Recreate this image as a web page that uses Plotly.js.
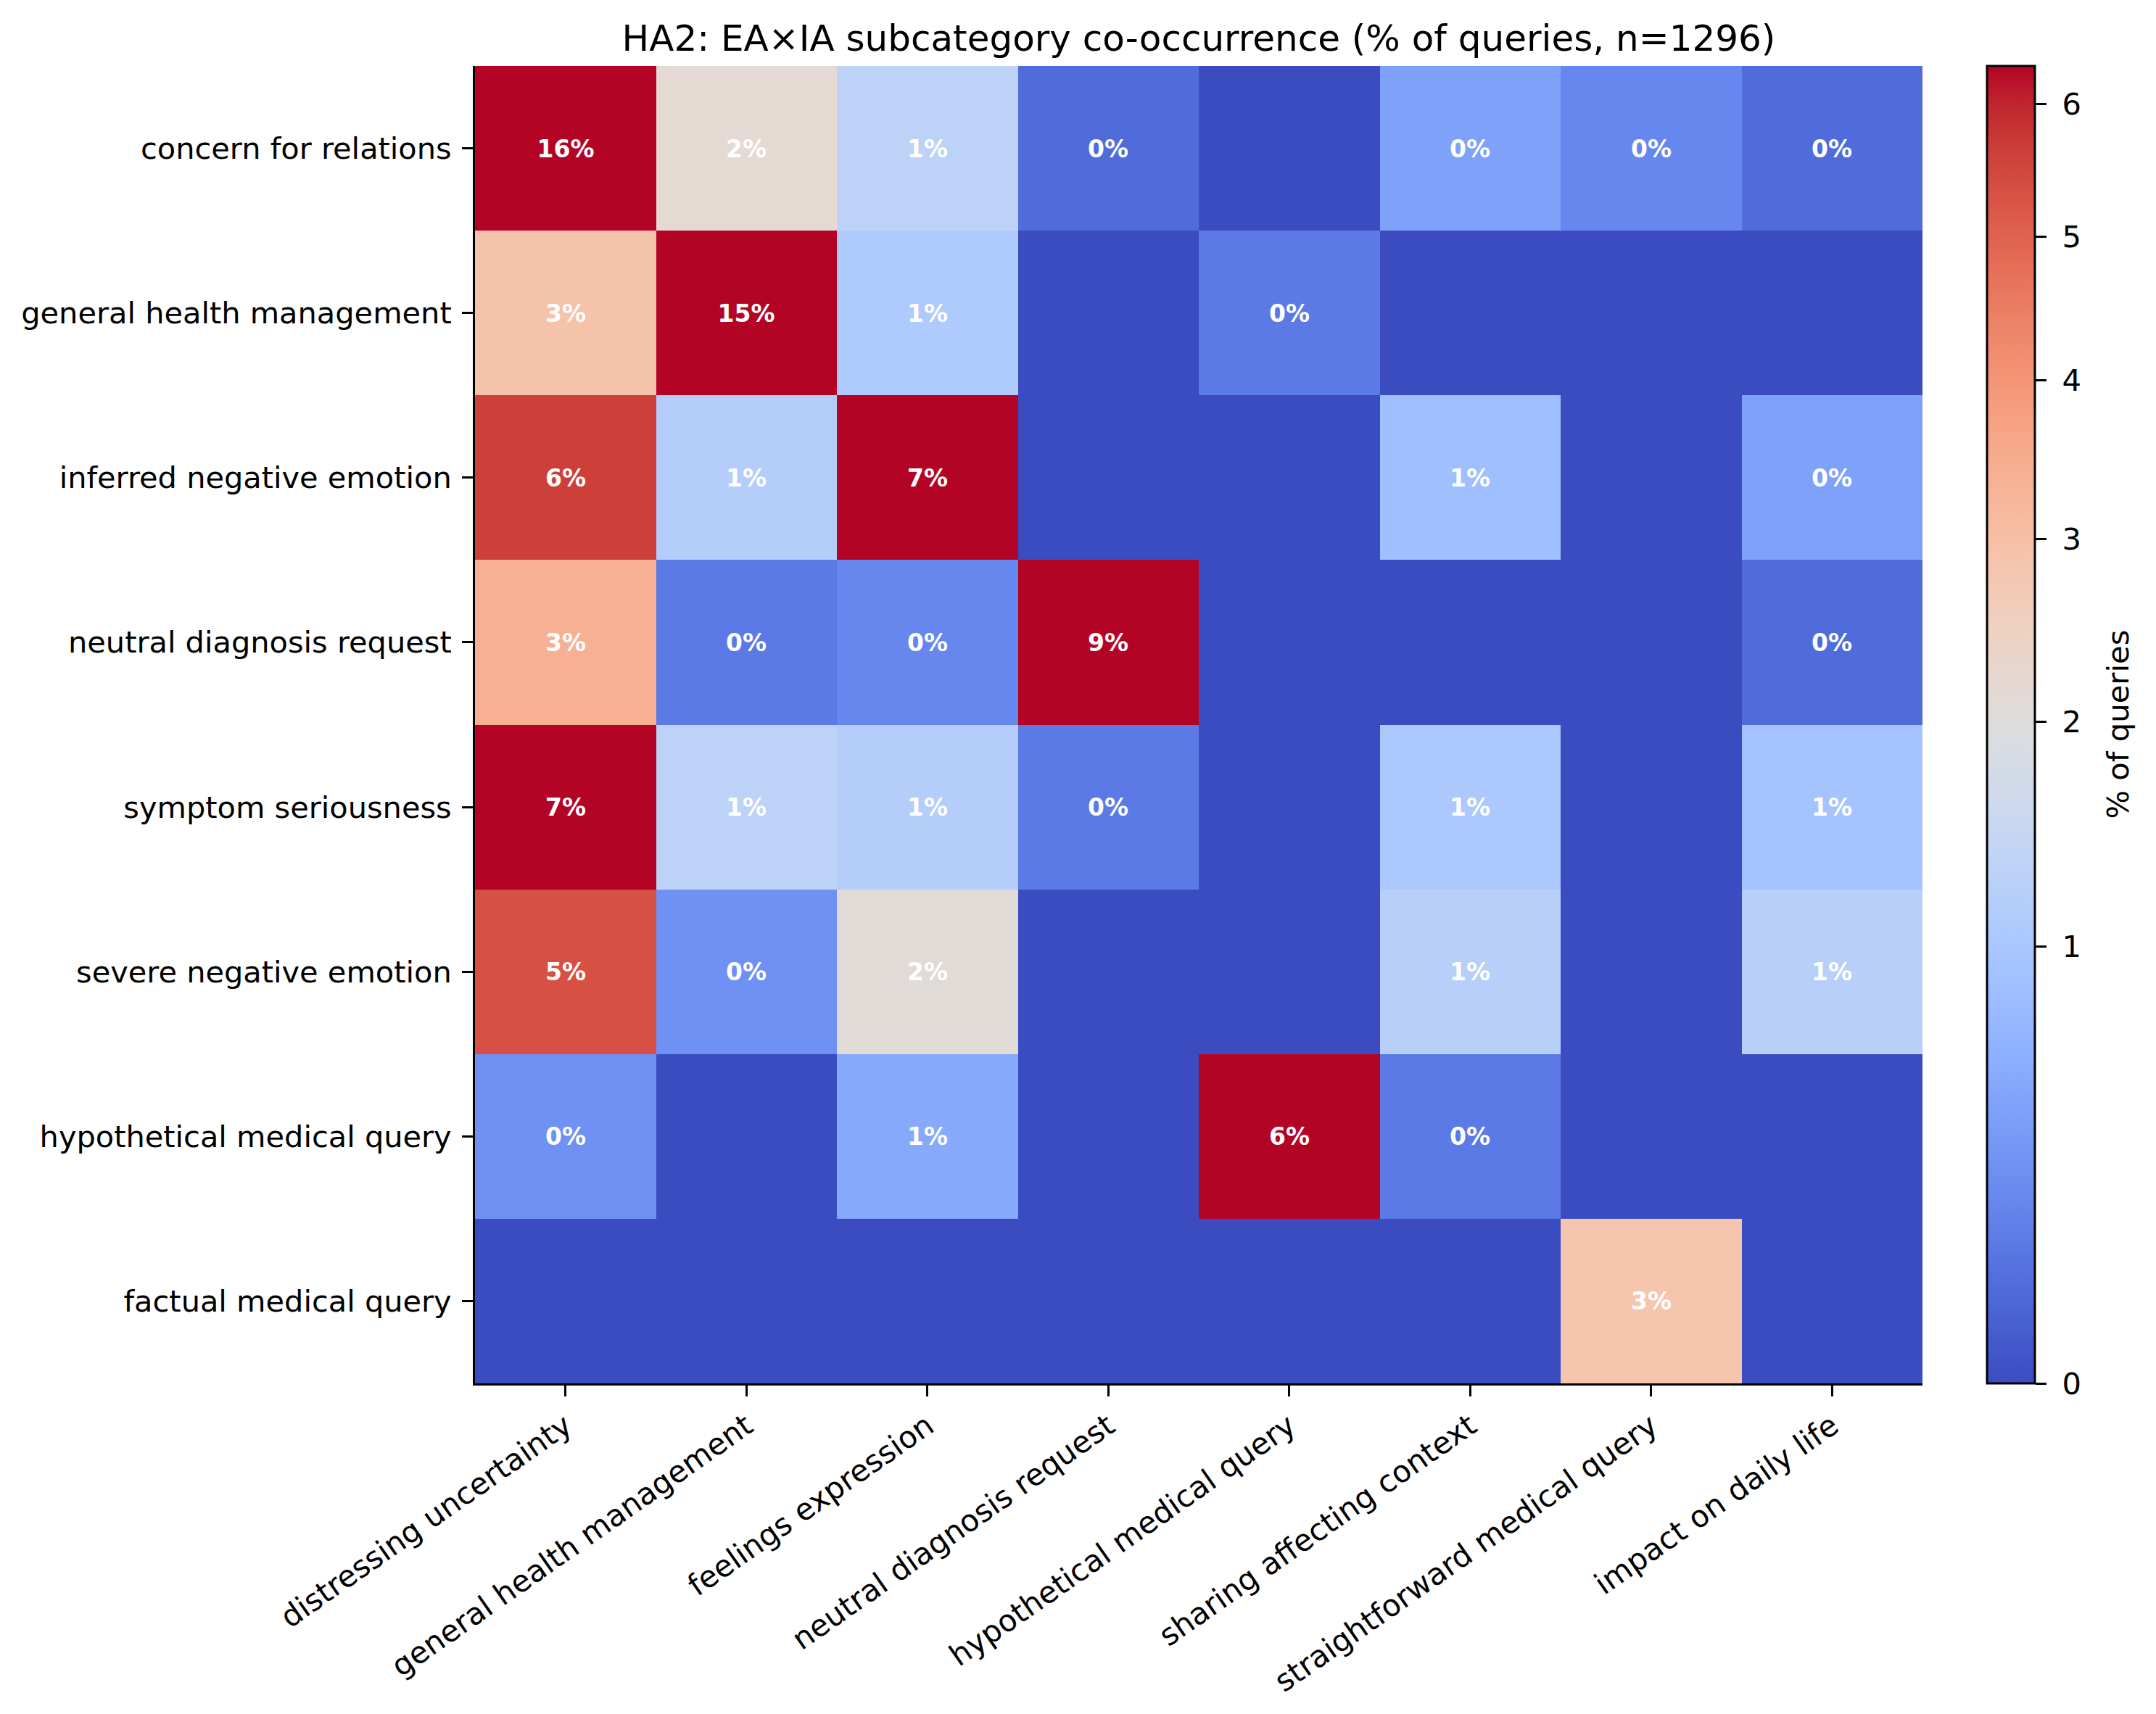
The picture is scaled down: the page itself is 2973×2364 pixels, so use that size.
<!DOCTYPE html>
<html>
<head>
<meta charset="utf-8">
<script src="https://cdn.plot.ly/plotly-3.0.1.min.js"></script>
<style>html,body{margin:0;padding:0;background:#fff;}#chart{width:2973px;height:2364px;}</style>
</head>
<body>
<div id="chart"></div>
<script>
// ---- data (percent of queries, n=1296) ----
const rowLabels = [
  "concern for relations",
  "general health management",
  "inferred negative emotion",
  "neutral diagnosis request",
  "symptom seriousness",
  "severe negative emotion",
  "hypothetical medical query",
  "factual medical query"
];
const colLabels = [
  "distressing uncertainty",
  "general health management",
  "feelings expression",
  "neutral diagnosis request",
  "hypothetical medical query",
  "sharing affecting context",
  "straightforward medical query",
  "impact on daily life"
];
const concernForRelations      = [16.0, 2.16, 1.31, 0.08, 0,    0.46, 0.23, 0.08];
const generalHealthManagement  = [2.93, 15.0, 1.08, 0,    0.15, 0,    0,    0   ];
const inferredNegativeEmotion  = [5.63, 1.16, 7.0,  0,    0,    0.85, 0,    0.46];
const neutralDiagnosisRequest  = [3.40, 0.15, 0.23, 9.0,  0,    0,    0,    0.08];
const symptomSeriousness       = [7.0,  1.31, 1.16, 0.15, 0,    1.03, 0,    0.93];
const severeNegativeEmotion    = [5.32, 0.31, 2.08, 0,    0,    1.23, 0,    1.23];
const hypotheticalMedicalQuery = [0.31, 0,    0.54, 0,    6.4,  0.15, 0,    0   ];
const factualMedicalQuery      = [0,    0,    0,    0,    0,    0,    2.85, 0   ];
const colorbarTicks = [0, 1, 2, 3, 4, 5, 6];

// colour normalisation (power norm, gamma 0.6, vmax ~6.3)
const VMAX = 6.3, GAMMA = 0.6;

// coolwarm colormap
const coolwarm = [
[59,76,192],[68,90,204],[77,104,215],[87,117,225],[98,130,234],[108,142,241],[119,154,247],[130,165,251],
[141,176,254],[152,185,255],[163,194,255],[174,201,253],[184,208,249],[194,213,244],[204,217,238],[213,219,230],
[221,221,221],[229,216,209],[236,211,197],[241,204,185],[245,196,173],[247,187,160],[247,177,148],[247,166,135],
[244,154,123],[241,141,111],[236,127,99],[229,112,88],[222,96,77],[213,80,66],[203,62,56],[192,40,47],[180,4,38]
];
const colorscale = coolwarm.map((c, i) => [i / (coolwarm.length - 1), `rgb(${c[0]},${c[1]},${c[2]})`]);

const rows = [concernForRelations, generalHealthManagement, inferredNegativeEmotion, neutralDiagnosisRequest,
              symptomSeriousness, severeNegativeEmotion, hypotheticalMedicalQuery, factualMedicalQuery];
const norm = v => Math.min(Math.pow(Math.max(v, 0) / VMAX, GAMMA), 1);
const zNorm = rows.map(r => r.map(norm));
const textArr = rows.map(r => r.map(v => v > 0 ? Math.round(v) + "%" : ""));

const FONT = "DejaVu Sans, Liberation Sans, sans-serif";

const trace = {
  type: "heatmap",
  x: colLabels,
  y: rowLabels,
  z: zNorm,
  customdata: rows,
  text: textArr,
  texttemplate: "%{text}",
  textfont: {family: FONT, size: 33, color: "white", weight: "bold"},
  colorscale: colorscale,
  zmin: 0, zmax: 1,
  xgap: 0, ygap: 0,
  hoverinfo: "skip",
  colorbar: {
    x: 1.0446, xanchor: "left", xref: "paper",
    y: 0.5, yanchor: "middle",
    len: 1, lenmode: "fraction",
    thickness: 66, thicknessmode: "pixels",
    xpad: 0, ypad: 0,
    outlinewidth: 3, outlinecolor: "black",
    tickmode: "array",
    tickvals: colorbarTicks.map(norm),
    ticktext: colorbarTicks.map(t => "\u00a0" + t),
    ticks: "outside", ticklen: 15, tickwidth: 3, tickcolor: "black",
    tickfont: {family: FONT, size: 41.7, color: "black"}
  }
};

const layout = {
  width: 2973, height: 2364,
  paper_bgcolor: "white", plot_bgcolor: "white",
  margin: {l: 655, r: 322, t: 91, b: 456, pad: 0},
  title: {
    text: "HA2: EA×IA subcategory co-occurrence (% of queries, n=1296)",
    font: {family: FONT, size: 50, color: "black"},
    x: 0.5, xref: "paper", xanchor: "center",
    y: 1 - 52 / 2364, yref: "container", yanchor: "middle"
  },
  annotations: [{
    text: "% of queries",
    xref: "paper", yref: "paper",
    x: (2920 - 655) / 1996, y: 0.5,
    xanchor: "center", yanchor: "middle",
    textangle: -90, showarrow: false,
    font: {family: FONT, size: 41.7, color: "black"}
  }],
  xaxis: {
    type: "category", tickangle: -35,
    showline: true, linecolor: "black", linewidth: 3, mirror: false,
    ticks: "outside", ticklen: 15, tickwidth: 3, tickcolor: "black",
    tickfont: {family: FONT, size: 41.7, color: "black"},
    showgrid: false, zeroline: false, automargin: false
  },
  yaxis: {
    type: "category", autorange: "reversed",
    showline: true, linecolor: "black", linewidth: 3, mirror: false,
    ticks: "outside", ticklen: 15, tickwidth: 3, tickcolor: "black",
    tickfont: {family: FONT, size: 41.5, color: "black"},
    ticklabelstandoff: 6,
    showgrid: false, zeroline: false, automargin: false
  }
};

Plotly.newPlot("chart", [trace], layout, {displayModeBar: false, staticPlot: true});
</script>
</body>
</html>
